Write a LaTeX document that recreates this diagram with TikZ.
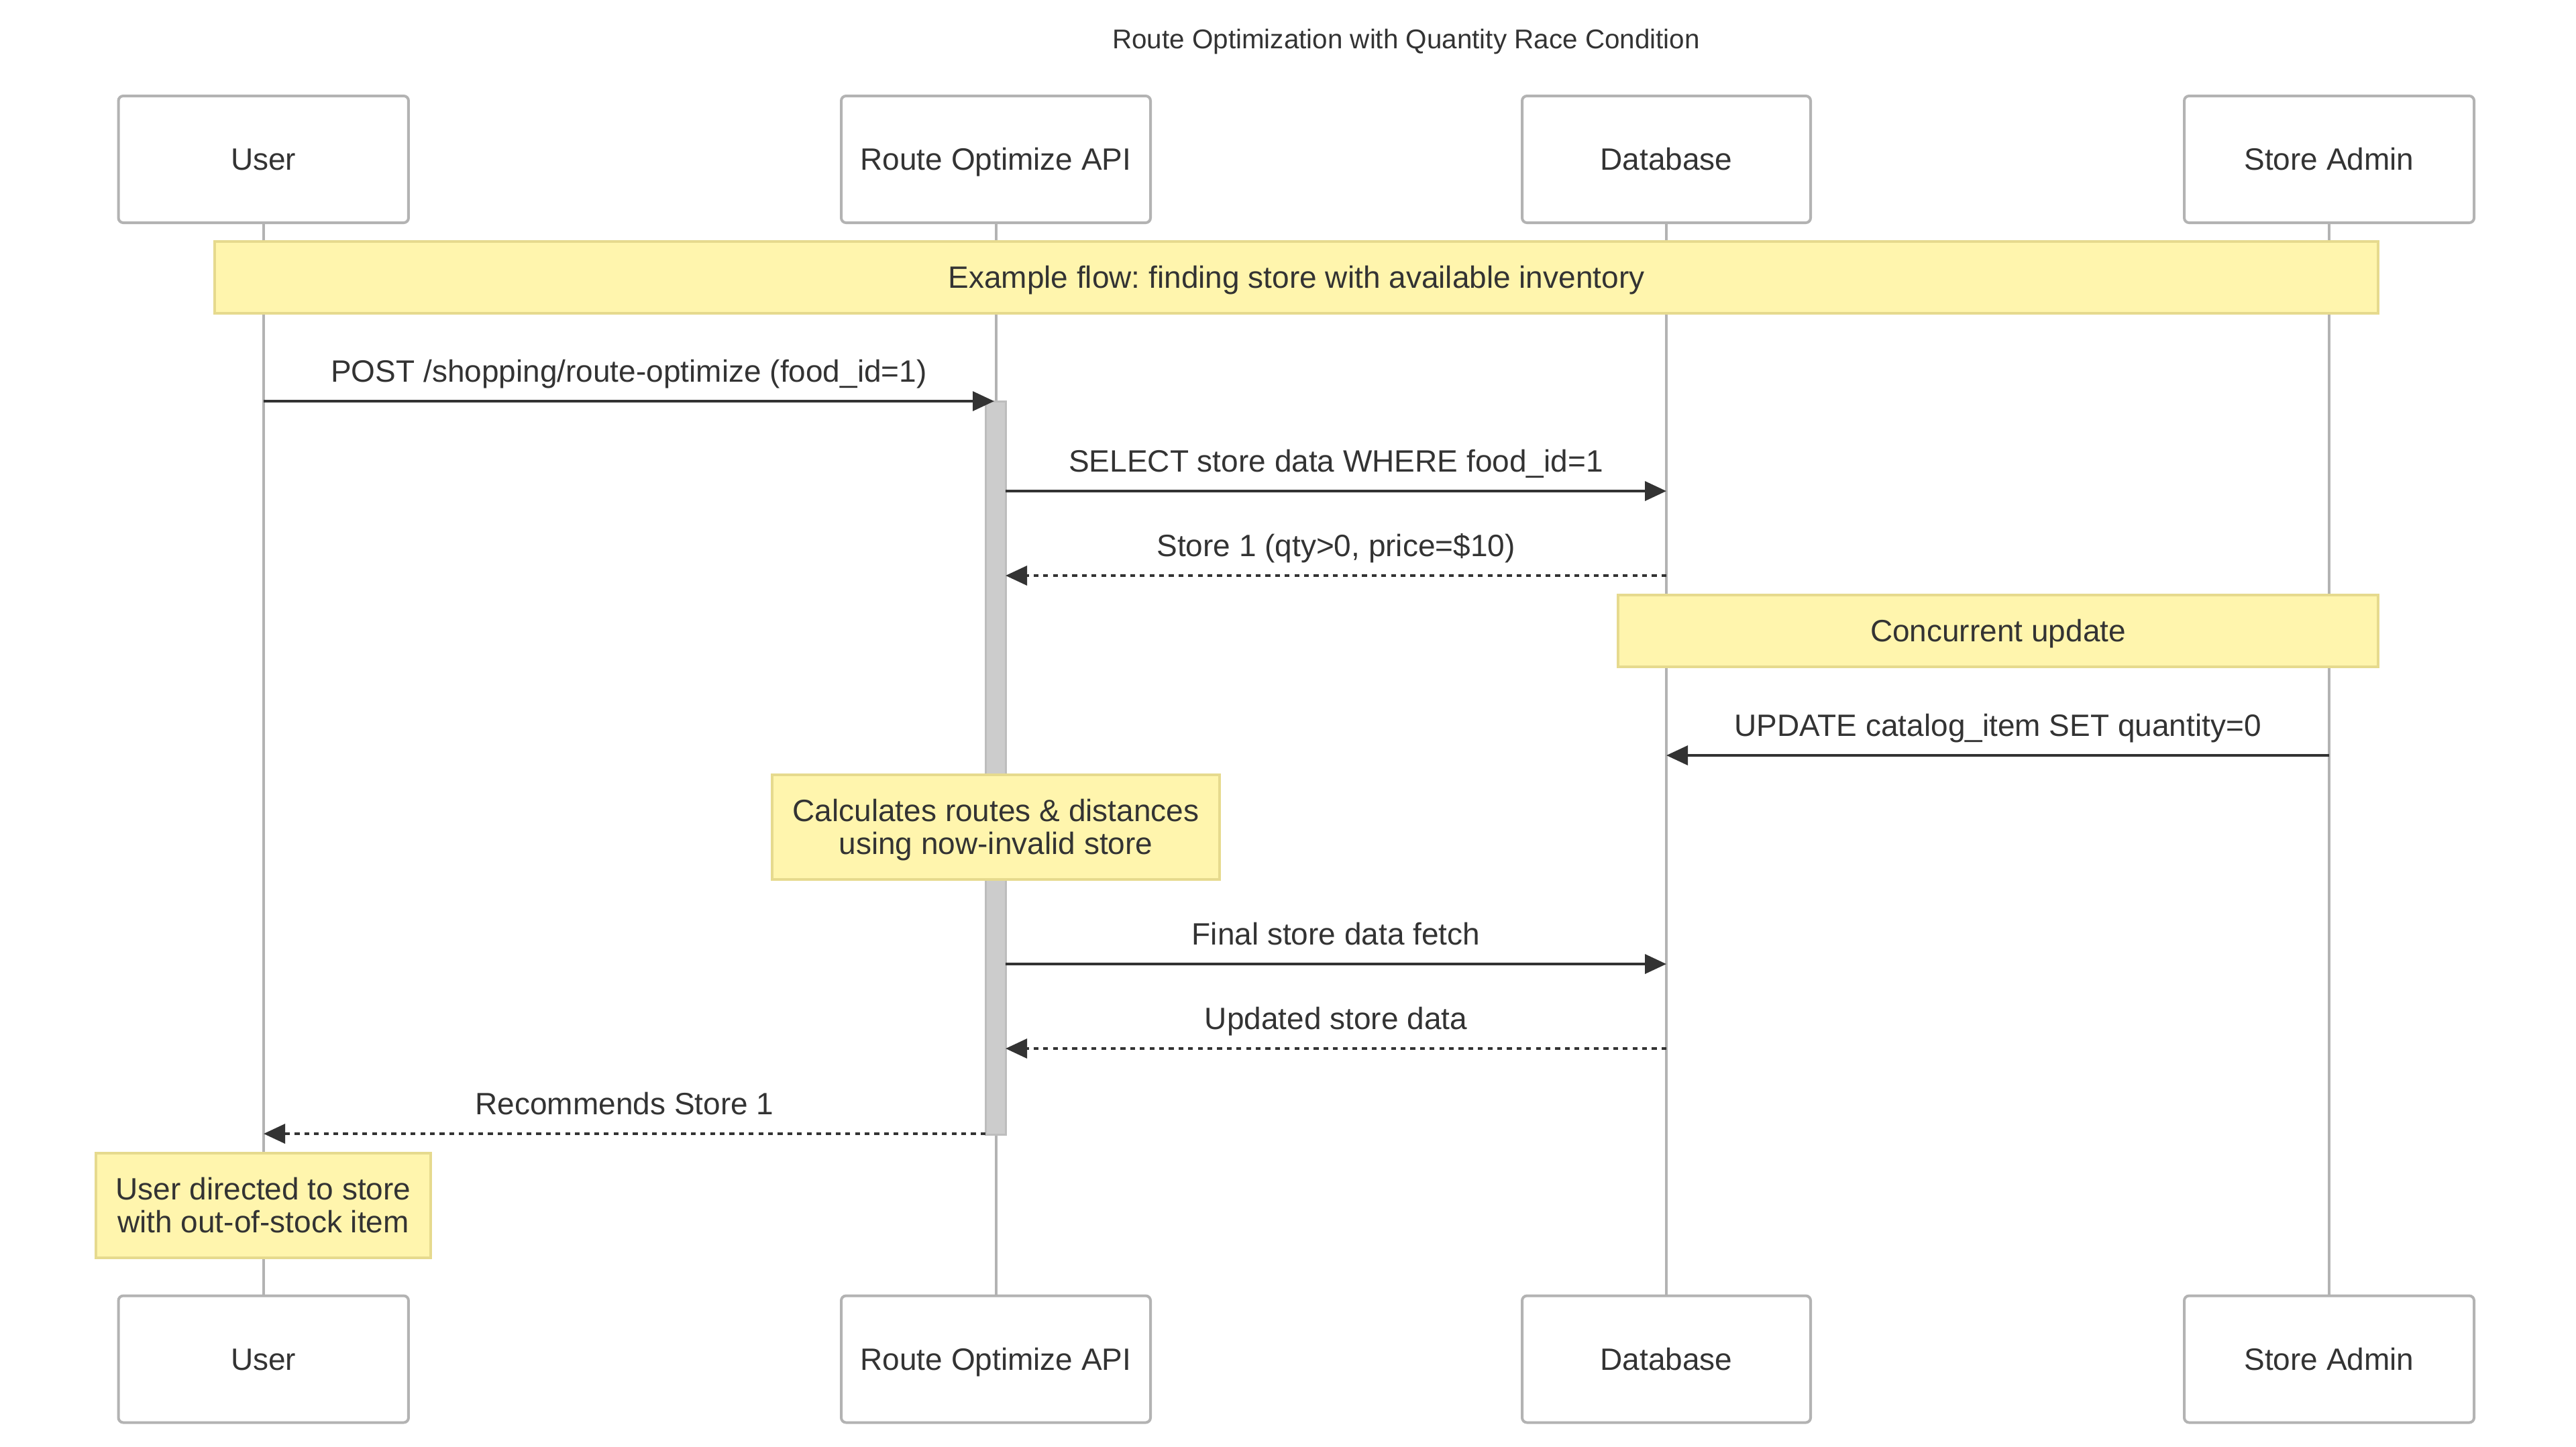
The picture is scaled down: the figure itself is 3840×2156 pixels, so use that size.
\documentclass[tikz,border=0pt]{standalone}
\usepackage{fontspec}
\setmainfont{Liberation Sans}
\usetikzlibrary{arrows.meta}
\frenchspacing

\definecolor{ink}{HTML}{333333}
\definecolor{actorline}{HTML}{B3B3B3}
\definecolor{notefill}{HTML}{FFF5AD}
\definecolor{noteline}{HTML}{E6DA8E}
\definecolor{actfill}{HTML}{CCCCCC}
\definecolor{actline}{HTML}{BDBDBD}

\tikzset{
    oneline/.style={text height=8.2pt, text depth=0pt},
    twolines/.style={text height=20.45pt, text depth=0pt},
    actor/.style={draw=actorline, line width=1pt, fill=white, rounded corners=1.8pt,
        minimum height=47.25pt, inner sep=0pt, text=ink, oneline,
        font=\fontsize{11.5}{13.8}\selectfont},
    lifeline/.style={draw=actorline, line width=1pt},
    activation/.style={draw=actline, line width=0.75pt, fill=actfill, inner sep=0pt,
        minimum width=7.5pt},
    note/.style={draw=noteline, line width=1pt, fill=notefill, inner sep=0pt,
        align=center, text=ink, font=\fontsize{11.5}{12.25}\selectfont},
    msg/.style={draw=ink, line width=1pt, -{Triangle[length=8pt, width=7.2pt]}},
    reply/.style={msg, dash pattern=on 1.8pt off 1.8pt},
    msglabel/.style={anchor=base, yshift=7.25pt, inner sep=0pt, text=ink,
        font=\fontsize{11.5}{13.8}\selectfont},
}

\begin{document}
\begin{tikzpicture}[x=0.25pt, y=-0.25pt]
        \useasboundingbox (0,0) rectangle (3840,2156);

        \node[text=ink, inner sep=0pt, text height=7.2pt, text depth=0pt,
            font=\fontsize{10.1}{12}\selectfont] (title) at (2096,58)
            {Route Optimization with Quantity Race Condition};

        \node[actor, minimum width=108.1pt]  (userTop)  at (392.75,237.5) {User};
        \node[actor, minimum width=115.25pt] (apiTop)   at (1484.5,237.5) {Route Optimize API};
        \node[actor, minimum width=107.5pt]  (dbTop)    at (2484,237.5)   {Database};
        \node[actor, minimum width=108pt]    (adminTop) at (3472,237.5)   {Store Admin};
        \node[actor, minimum width=108.1pt]  (userBot)  at (392.75,2026)  {User};
        \node[actor, minimum width=115.25pt] (apiBot)   at (1484.5,2026)  {Route Optimize API};
        \node[actor, minimum width=107.5pt]  (dbBot)    at (2484,2026)    {Database};
        \node[actor, minimum width=108pt]    (adminBot) at (3472,2026)    {Store Admin};

        \draw[lifeline] (userTop.south)  -- (userBot.north);
        \draw[lifeline] (apiTop.south)   -- (apiBot.north);
        \draw[lifeline] (dbTop.south)    -- (dbBot.north);
        \draw[lifeline] (adminTop.south) -- (adminBot.north);

        \node[activation, minimum height=273.25pt] (apiAct) at (1484,1144.5) {};

        \node[note, oneline, minimum width=806.25pt, minimum height=26.75pt] (flowNote) at (1932.5,413.5)
            {Example flow: finding store with available inventory};
        \node[note, oneline, minimum width=283.25pt, minimum height=26.75pt] (updateNote) at (2978.5,940.5)
            {Concurrent update};
        \node[note, twolines, minimum width=166.75pt, minimum height=39pt] (calcNote) at (1484.5,1233)
            {Calculates routes \& distances\\using now-invalid store};
        \node[note, twolines, minimum width=124.75pt, minimum height=39pt] (userNote) at (392.5,1797)
            {User directed to store\\with out-of-stock item};

        \coordinate (userM1)  at (393,598);
        \coordinate (apiM1)   at (1482,598);
        \coordinate (apiM2)   at (1499,732);
        \coordinate (dbM2)    at (2484,732);
        \coordinate (dbM3)    at (2484,858);
        \coordinate (apiM3)   at (1499,858);
        \coordinate (adminM4) at (3472,1126);
        \coordinate (dbM4)    at (2484,1126);
        \coordinate (apiM5)   at (1499,1437);
        \coordinate (dbM5)    at (2484,1437);
        \coordinate (dbM6)    at (2484,1563);
        \coordinate (apiM6)   at (1499,1563);
        \coordinate (apiM7)   at (1469,1690);
        \coordinate (userM7)  at (393,1690);

        \draw[msg]   (userM1)  -- node[msglabel] {POST /shopping/route-optimize (food\_id=1)} (apiM1);
        \draw[msg]   (apiM2)   -- node[msglabel] {SELECT store data WHERE food\_id=1} (dbM2);
        \draw[reply] (dbM3)    -- node[msglabel] {Store 1 (qty>0, price=\$10)} (apiM3);
        \draw[msg]   (adminM4) -- node[msglabel] {UPDATE catalog\_item SET quantity=0} (dbM4);
        \draw[msg]   (apiM5)   -- node[msglabel] {Final store data fetch} (dbM5);
        \draw[reply] (dbM6)    -- node[msglabel] {Updated store data} (apiM6);
        \draw[reply] (apiM7)   -- node[msglabel] {Recommends Store 1} (userM7);
    \end{tikzpicture}
\end{document}
